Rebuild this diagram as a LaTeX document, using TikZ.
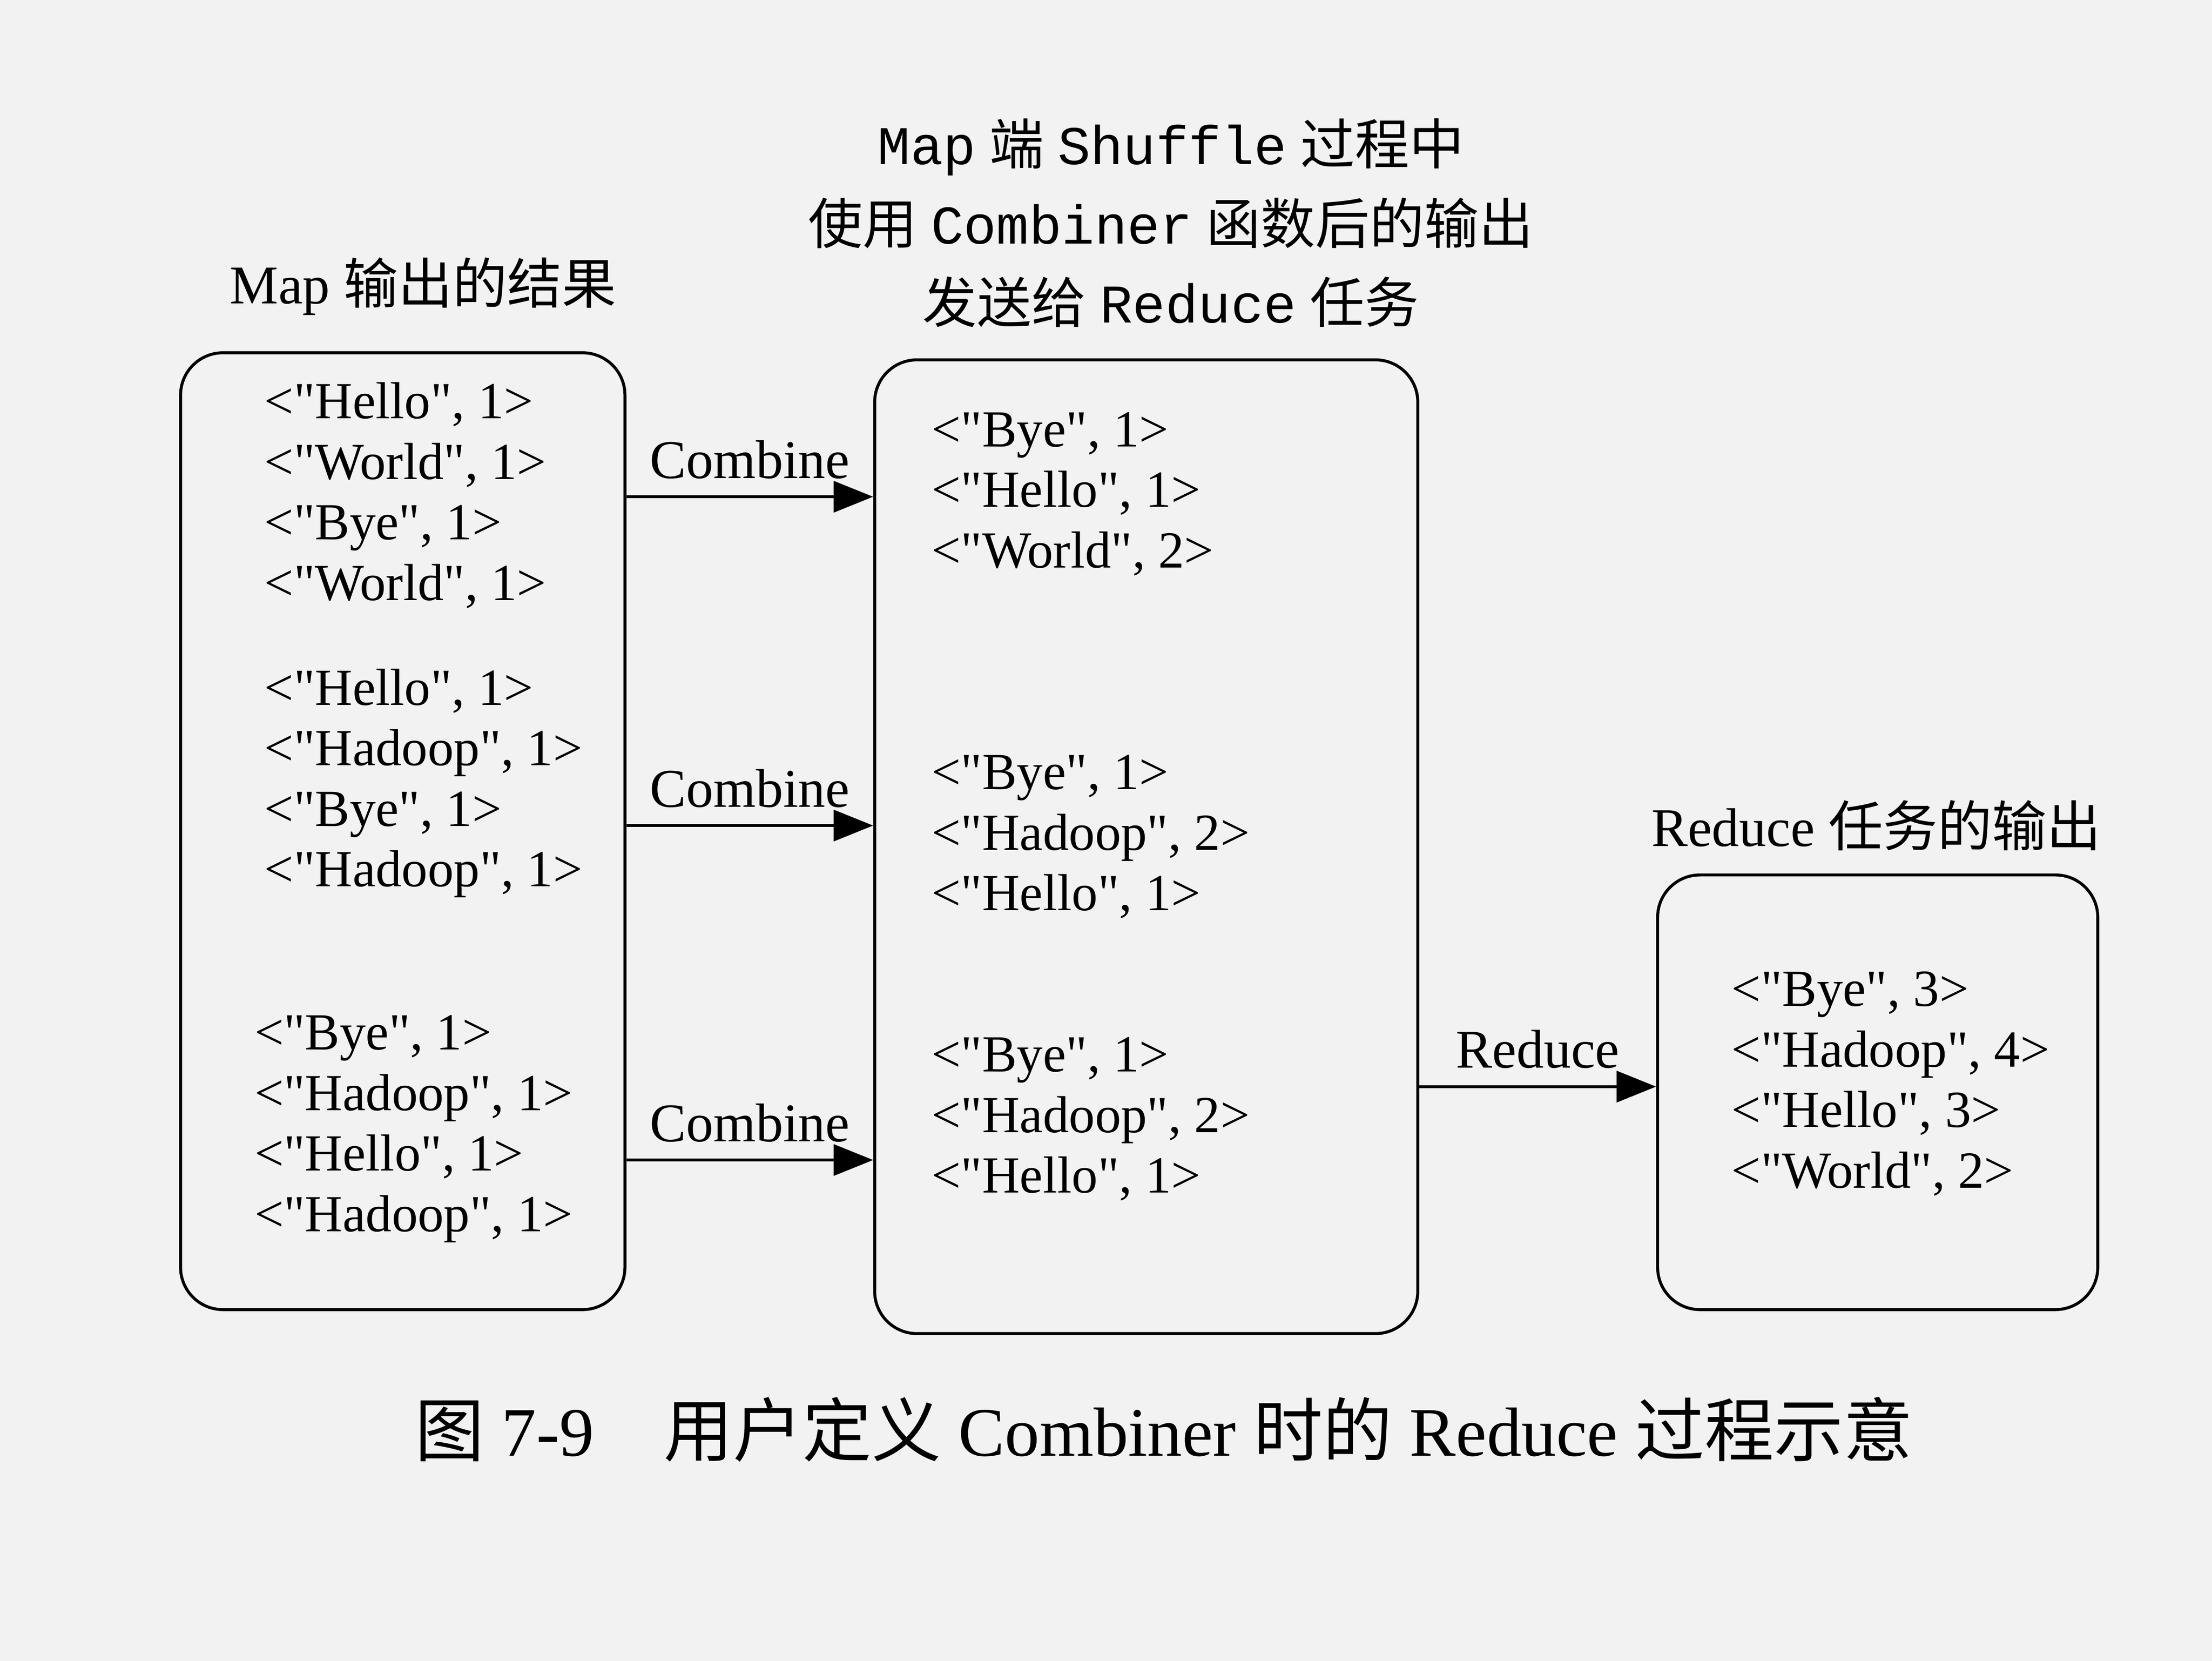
\documentclass[tikz,border=0pt]{standalone}
\usepackage{fontspec}
\setmainfont{Liberation Serif}[Ligatures=TeXOff]
\setmonofont{Liberation Mono}
\newfontfamily\cjk{Noto Sans CJK SC}
\usetikzlibrary{positioning,arrows.meta}
\newcommand{\kv}[2]{<"#1", #2>}

\begin{document}
\begin{tikzpicture}[
    box/.style={draw, semithick, rounded corners=0.3cm},
    pairs/.style={anchor=west, align=left, font=\fontsize{10.5}{12.2}\selectfont},
    title/.style={font=\fontsize{11}{16}\selectfont, align=center},
    flow/.style={semithick, -{Triangle[length=0.28cm, width=0.22cm]}},
    lbl/.style={above, font=\fontsize{11}{13}\selectfont}
]
\fill[gray!10] (0,0) rectangle (15.68,11.77);
\useasboundingbox (0,0) rectangle (15.68,11.77);

% boxes
\node[box, minimum width=3.15cm, minimum height=6.78cm] (L) at (2.855,5.88) {};
\node[box, minimum width=3.85cm, minimum height=6.90cm] (M) at (8.125,5.77) {};
\node[box, minimum width=3.12cm, minimum height=3.08cm] (R) at (13.31,4.03) {};

% titles
\node[title] (TL) at (3.0,9.74) {Map {\cjk 输出的结果}};
\node[title] (TM) at (8.3,10.19) {\texttt{Map} {\cjk 端} \texttt{Shuffle} {\cjk 过程中}\\
  {\cjk 使用} \texttt{Combiner} {\cjk 函数后的输出}\\
  {\cjk 发送给} \texttt{Reduce} {\cjk 任务}};
\node[title] (TR) at (13.3,5.92) {Reduce {\cjk 任务的输出}};

% map output
\node[pairs] (L1) at (1.75,8.26) {\kv{Hello}{1}\\ \kv{World}{1}\\ \kv{Bye}{1}\\ \kv{World}{1}};
\node[pairs] (L2) at (1.75,6.22) {\kv{Hello}{1}\\ \kv{Hadoop}{1}\\ \kv{Bye}{1}\\ \kv{Hadoop}{1}};
\node[pairs] (L3) at (1.68,3.77) {\kv{Bye}{1}\\ \kv{Hadoop}{1}\\ \kv{Hello}{1}\\ \kv{Hadoop}{1}};

% combined
\node[pairs] (M1) at (6.48,8.27) {\kv{Bye}{1}\\ \kv{Hello}{1}\\ \kv{World}{2}};
\node[pairs] (M2) at (6.48,5.84) {\kv{Bye}{1}\\ \kv{Hadoop}{2}\\ \kv{Hello}{1}};
\node[pairs] (M3) at (6.48,3.84) {\kv{Bye}{1}\\ \kv{Hadoop}{2}\\ \kv{Hello}{1}};

% reduce output
\node[pairs] (R1) at (12.15,4.09) {\kv{Bye}{3}\\ \kv{Hadoop}{4}\\ \kv{Hello}{3}\\ \kv{World}{2}};

\draw[flow] (L.east |- 0,8.25) -- node[lbl] {Combine} (M.west |- 0,8.25);
\draw[flow] (L.east |- 0,5.92) -- node[lbl] {Combine} (M.west |- 0,5.92);
\draw[flow] (L.east |- 0,3.55) -- node[lbl] {Combine} (M.west |- 0,3.55);
\draw[flow] (M.east |- 0,4.07) -- node[lbl] {Reduce} (R.west |- 0,4.07);

% caption
\node[font=\fontsize{14}{16}\selectfont] (cap) at (8.25,1.64)
  {{\cjk 图} 7-9\quad {\cjk 用户定义} Combiner {\cjk 时的} Reduce {\cjk 过程示意}};
\end{tikzpicture}
\end{document}
